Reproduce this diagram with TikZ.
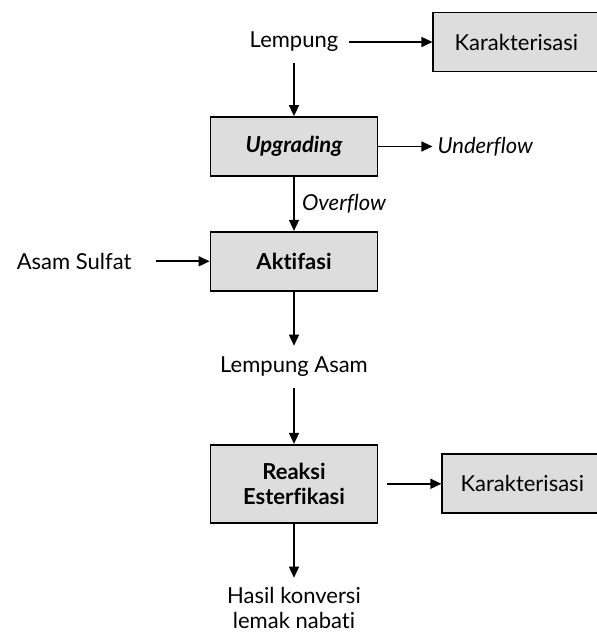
\documentclass[tikz,border=0pt]{standalone}
\usepackage{fontspec}
\setmainfont[Ligatures=NoCommon]{Lato}
\usepackage{tikz}
\usetikzlibrary{positioning, arrows.meta}

\definecolor{boxgray}{RGB}{221,221,221}

\begin{document}
\begin{tikzpicture}[
        x=1pt, y=1pt,
        font=\fontsize{22pt}{25pt}\selectfont,
        box/.style={draw, line width=1.8pt, fill=boxgray, minimum width=167pt, minimum height=59pt, align=center},
        txt/.style={inner sep=11pt, align=center},
        flow/.style={line width=1.6pt, -{Triangle[length=11pt, width=10pt]}}
    ]
        \useasboundingbox (0,0) rectangle (597,-632);

        \node[txt] at (294,-42)                                 (lempung)  {Lempung};
        \node[box, minimum width=166pt, right=83pt of lempung]  (karak 1)  {Karakterisasi};
        \node[box, below=53pt of lempung]                       (upgrade)  {\textbf{\textit{Upgrading}}};
        \node[txt, inner sep=5pt, right=54pt of upgrade]        (under)    {\textit{Underflow}};
        \node[box, below=54pt of upgrade]                       (aktif)    {\textbf{Aktifasi}};
        \node[txt, left=67pt of aktif]                          (asam)     {Asam Sulfat};
        \node[txt, below=54pt of aktif]                         (lp asam)  {Lempung Asam};
        \node[box, minimum height=78pt, below=56pt of lp asam]  (reaksi)   {\textbf{Reaksi}\\\textbf{Esterfikasi}};
        \node[box, minimum width=160pt, right=63pt of reaksi]   (karak 2)  {Karakterisasi};
        \node[txt, below=52pt of reaksi]                        (hasil)    {Hasil konversi\\lemak nabati};

        \draw[flow] (lempung) -- (karak 1);
        \draw[flow] (lempung) -- (upgrade);
        \draw[flow] (upgrade) -- (under);
        \draw[flow] (upgrade) -- node[right=4pt] {\textit{Overflow}} (aktif);
        \draw[flow, shorten <=13pt] (asam) -- (aktif);
        \draw[flow] (aktif) -- (lp asam);
        \draw[flow] (lp asam) -- (reaksi);
        \draw[flow, shorten <=9pt] (reaksi) -- (karak 2);
        \draw[flow, shorten >=-2pt] (reaksi) -- (hasil);
    \end{tikzpicture}
\end{document}
